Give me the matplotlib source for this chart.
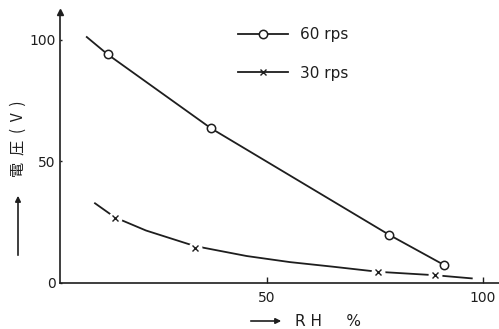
import matplotlib.pyplot as plt

# readings (RH %, voltage V)
rh_60 = [8.3, 13.1, 37.0, 78.3, 91.0]
v_60 = [101.2, 94.1, 63.7, 19.8, 7.4]

rh_30 = [10.2, 14.8, 22.0, 33.3, 45.3, 55.3, 65.3, 75.8, 88.9, 97.4]
v_30 = [32.8, 27.0, 21.6, 15.2, 11.1, 8.6, 6.7, 4.6, 3.2, 1.9]
rh_30_pts = [14.8, 33.3, 75.8, 88.9]
v_30_pts = [26.6, 14.5, 4.4, 3.2]

xticks = [50, 100]
yticks = [0, 50, 100]

ink = "#1e1e1e"
cjk = ["Noto Sans CJK JP", "DejaVu Sans"]

fig = plt.figure(figsize=(4.99, 3.29), dpi=100)
ax = fig.add_axes([60 / 499, 46 / 329, 439 / 499, 271 / 329])

# 60 rps: solid line with open circles
ax.plot(rh_60, v_60, c=ink, linewidth=1.3, label="60 rps", marker="o",
        markevery=[1, 2, 3, 4], markersize=6, markerfacecolor="white",
        markeredgecolor=ink, markeredgewidth=1.1)

# 30 rps: line broken around the x markers
ax.plot(rh_30, v_30, c=ink, linewidth=1.3)
ax.plot(rh_30_pts, v_30_pts, linestyle="none", marker="o", markersize=9,
        markerfacecolor="white", markeredgecolor="white")
ax.plot(rh_30_pts, v_30_pts, linestyle="none", marker="x", markersize=5,
        markeredgecolor=ink, markeredgewidth=1.0)
# legend handle for 30 rps
ax.plot([], [], c=ink, linewidth=1.3, marker="x", markersize=5,
        markeredgewidth=1.0, label="30 rps")

ax.set_xlim(2.1, 103.7)
ax.set_ylim(0, 111.5)
ax.set_xticks(xticks)
ax.set_yticks(yticks)
ax.tick_params(direction="in", length=4, width=1, colors=ink, labelsize=10, pad=6)
ax.tick_params(axis="y", length=1.5, pad=3)
for s in ["top", "right"]:
    ax.spines[s].set_visible(False)
for s in ["left", "bottom"]:
    ax.spines[s].set_color(ink)
    ax.spines[s].set_linewidth(1.2)

# arrow head at top of y axis
ax.plot([0], [1], marker="^", markersize=4, color=ink, transform=ax.transAxes, clip_on=False)

leg = ax.legend(loc="upper left", bbox_to_anchor=(238 / 499, 1 - 27 / 329),
                bbox_transform=fig.transFigure, frameon=False, fontsize=11,
                handlelength=3.3, handletextpad=0.75, labelspacing=1.55,
                borderpad=0, borderaxespad=0)
for t in leg.get_texts():
    t.set_color(ink)

# axis labels with arrows (positions in pixels from bottom-left)
fig.text(18, 190, "電  圧  (  V  )", transform=None, rotation=90, ha="center",
         va="center", family=cjk, fontsize=11, color=ink)
ax.annotate("", xy=(18, 136), xytext=(18, 71), xycoords="figure pixels",
            textcoords="figure pixels",
            arrowprops=dict(arrowstyle="-|>", color=ink, lw=1.2, mutation_scale=8))
fig.text(295, 8, "R H     %", transform=None, ha="left", va="center",
         fontsize=11, color=ink)
ax.annotate("", xy=(284, 8), xytext=(248, 8), xycoords="figure pixels",
            textcoords="figure pixels",
            arrowprops=dict(arrowstyle="-|>", color=ink, lw=1.2, mutation_scale=8))

plt.savefig("out.png", dpi=100)
